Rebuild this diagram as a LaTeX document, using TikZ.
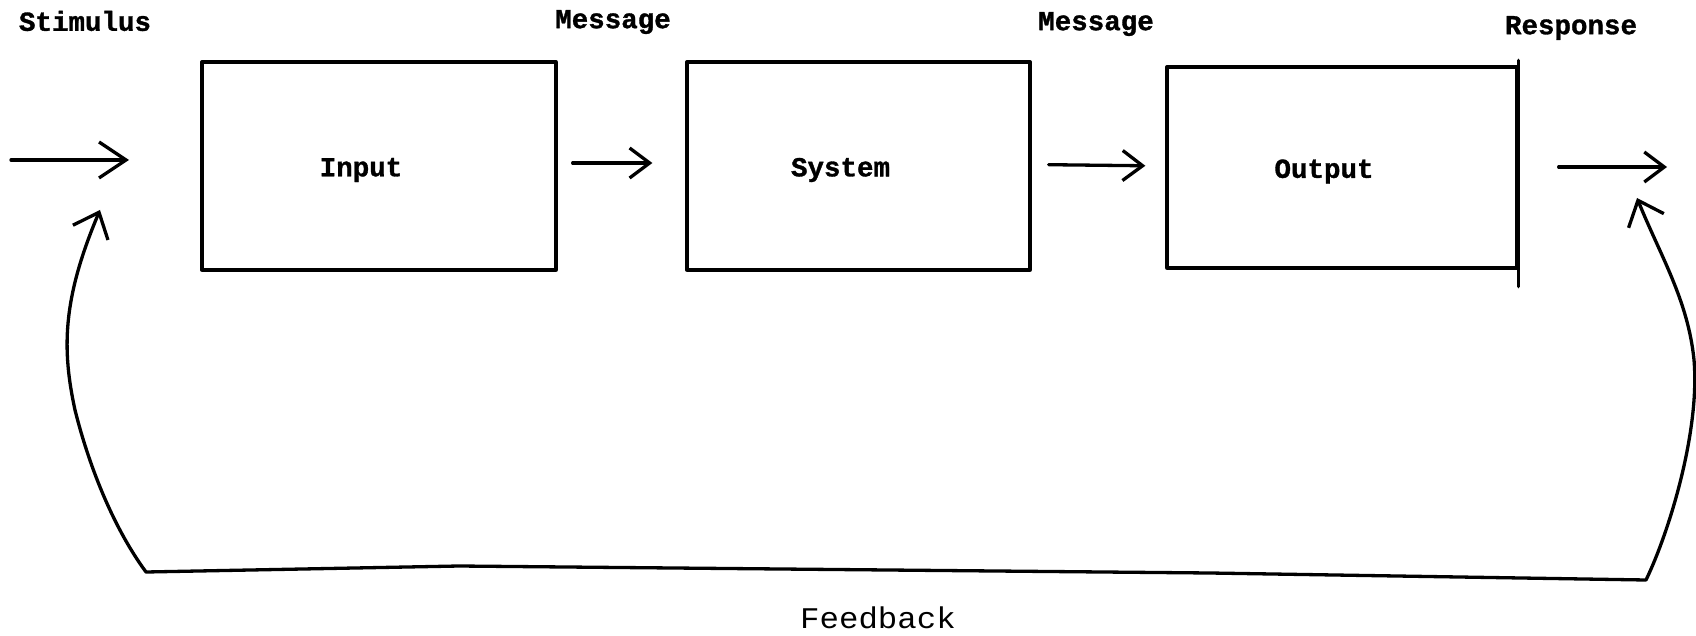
\documentclass[tikz,border=0pt]{standalone}
\usepackage{fontspec}
\usetikzlibrary{arrows.meta}
\newfontfamily\labelfont[BoldFeatures={FakeBold=1.2}]{Liberation Mono}
\newfontfamily\captionfont[FakeStretch=1.08]{Liberation Mono}
\begin{document}
\begin{tikzpicture}[x=1pt,y=-1pt,line width=3.3pt,line cap=round,line join=round,
  tag/.style={font=\labelfont\bfseries\fontsize{27.5}{30}\selectfont,inner sep=0pt},
  box/.style={draw,inner sep=0pt,label={[tag,xshift=-18pt,yshift=-4pt]center:#1}},
  flow/.style={-{Straight Barb[length=20pt,width=30pt]}},
  bigflow/.style={-{Straight Barb[length=27pt,width=36pt]}},
  loop/.style={{Straight Barb[length=22pt,width=38pt]}-{Straight Barb[length=22pt,width=38pt]}}]
\useasboundingbox (0,0) rectangle (1696,636);

% the three blocks
\node[box={Input},minimum width=354pt,minimum height=208pt] (in) at (379,166) {};
\node[box={System},minimum width=343pt,minimum height=208pt] (sys) at (858.5,166) {};
\node[box={Output},minimum width=350pt,minimum height=201pt] (out) at (1342,167.5) {};
\draw ([yshift=5pt]out.north east) -- ([yshift=-17pt]out.south east);

% labels along the top
\node[tag] (stimlbl) at (85,21) {Stimulus};
\node[tag] (msg1) at (613,22) {Message};
\node[tag] (msg2) at (1096,24) {Message};
\node[tag] (resp) at (1571,28) {Response};
\node[font=\captionfont\fontsize{30}{32}\selectfont,inner sep=0pt] (fblbl) at (878,618) {Feedback};

% free ends of the open arrows and of the feedback loop
\coordinate (stimA) at (11,160);
\coordinate (stimB) at (129,160);
\coordinate (respB) at (1667,167);
\coordinate (fbR) at (1637,198);
\coordinate (fbL) at (100,210);

% forward flow
\draw[bigflow] (stimA) -- (stimB);
\draw[flow,shorten <=15pt,shorten >=33pt] ([yshift=3pt]in.east) -- ([yshift=3pt]sys.west);
\draw[flow,shorten <=17pt,shorten >=20pt] ([yshift=1.5pt]sys.east) -- ([yshift=1.5pt]out.west);
\draw[flow,shorten <=40pt] (out.east |- respB) -- (respB);

% feedback loop from response back to stimulus
\draw[loop] (fbR) .. controls (1660,255) and (1688,300) .. (1694,360)
  .. controls (1700,430) and (1670,530) .. (1646,580)
  -- (1210,573) -- (459,566) -- (146,572)
  .. controls (115,530) and (90,470) .. (75,410)
  .. controls (62,350) and (62,300) .. (fbL);
\end{tikzpicture}
\end{document}
